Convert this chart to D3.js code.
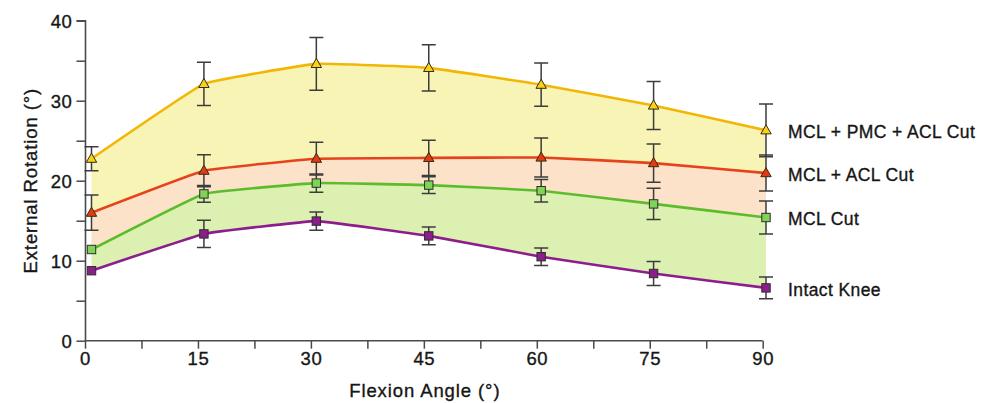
<!DOCTYPE html>
<html>
<head>
<meta charset="utf-8">
<script src="https://cdn.jsdelivr.net/npm/d3@7"></script>
<style>
  html, body { margin: 0; padding: 0; background: #fff; }
  svg { display: block; }
  text { font-family: "Liberation Sans", Arial, Helvetica, sans-serif; fill: #161616; stroke: #161616; stroke-width: 0.35px; }
</style>
</head>
<body>
<svg id="chart" width="992" height="403"></svg>
<script>
// Flexion angles (degrees)
const angles = [0, 15, 30, 45, 60, 75, 90];

// Mean external rotation (degrees) and error (+/-) for each knee state
const intactKnee    = [8.75, 13.35, 14.95, 13.1, 10.5, 8.4, 6.6];
const intactKneeErr = [null, 1.7, 1.15, 1.1, 1.1, 1.5, 1.35];

const mclCut        = [11.4, 18.35, 19.7, 19.45, 18.75, 17.1, 15.4];
const mclCutErr     = [null, 1.05, 1.15, 1.05, 1.4, 1.95, 2.05];

const mclAclCut     = [16.0, 21.25, 22.75, 22.85, 22.9, 22.2, 20.95];
const mclAclCutErr  = [2.2, 2.0, 2.05, 2.2, 2.45, 2.4, 2.25];

const mclPmcAclCut    = [22.75, 32.1, 34.6, 34.1, 32.0, 29.4, 26.3];
const mclPmcAclCutErr = [1.5, 2.7, 3.3, 2.9, 2.7, 3.0, 3.3];

const seriesNames = ["MCL + PMC + ACL Cut", "MCL + ACL Cut", "MCL Cut", "Intact Knee"];

const yTicks = [0, 10, 20, 30, 40];
const xTicks = [0, 15, 30, 45, 60, 75, 90];

// Build series from the arrays above (top to bottom)
const series = [
  { name: seriesNames[0], values: mclPmcAclCut, err: mclPmcAclCutErr, line: "#f2b705", marker: "#f7d21a", shape: "triangle", band: "#f8f4b6" },
  { name: seriesNames[1], values: mclAclCut,    err: mclAclCutErr,    line: "#e6421b", marker: "#e33a12", shape: "triangle", band: "#fbe2c8" },
  { name: seriesNames[2], values: mclCut,       err: mclCutErr,       line: "#5cbc2c", marker: "#7fd356", shape: "square",   band: "#dcf0b2" },
  { name: seriesNames[3], values: intactKnee,   err: intactKneeErr,   line: "#8d1c8d", marker: "#8a1f8a", shape: "square",   band: null }
];
series.forEach(s => { s.points = angles.map((a, i) => ({ a, v: s.values[i], e: s.err[i] })); });

const svg = d3.select("#chart");

// Axis scales
const x = d3.scaleLinear().domain([0, 90]).range([85, 762.7]);
const y = d3.scaleLinear().domain([0, 40]).range([340.7, 20.7]);
// Data points sit slightly to the right of the tick marks
const xd = d3.scaleLinear().domain([0, 90]).range([91.5, 766]);

// Gently rounded segments
const curve = d3.curveCardinal.tension(0.75);

// Shaded bands between consecutive curves
const bands = svg.append("g");
for (let i = 0; i < series.length - 1; i++) {
  const upper = series[i], lower = series[i + 1];
  const area = d3.area()
    .x(d => xd(d.a))
    .y1(d => y(d.v))
    .y0((d, k) => y(lower.values[k]))
    .curve(curve);
  bands.append("path")
    .datum(upper.points)
    .attr("d", area)
    .attr("fill", upper.band)
    .attr("stroke", "none");
}

// Axes
const axisColor = "#4a4a4a";
const yAxis = svg.append("g").attr("transform", `translate(${x(0) + 0.5},0)`)
  .call(d3.axisLeft(y).tickValues(d3.range(0, 41, 5)).tickSize(9).tickFormat(d => yTicks.includes(d) ? d : ""));
const xAxis = svg.append("g").attr("transform", `translate(0,${y(0)})`)
  .call(d3.axisBottom(x).tickValues(d3.range(0, 91, 7.5)).tickSize(8).tickFormat(d => xTicks.includes(d) ? d : ""));

[yAxis, xAxis].forEach(g => {
  g.select(".domain").attr("stroke", axisColor).attr("stroke-width", 1.6);
  g.selectAll(".tick line").attr("stroke", axisColor).attr("stroke-width", 1.5);
  g.selectAll(".tick text")
    .attr("fill", "#161616")
    .style("font-size", "18.5px")
    .style("letter-spacing", "0.6px")
    .style("font-family", '"Liberation Sans", Arial, sans-serif');
});
yAxis.select(".domain").attr("d", `M-9,${y(40)}H0V${y(0)}`);
yAxis.selectAll(".tick text").attr("x", -13).attr("dy", "0.36em");
xAxis.select(".domain").attr("d", `M${x(0)},0H${x(90)}`);
xAxis.selectAll(".tick text").attr("y", 11).attr("dy", "0.71em");

// Axis titles
svg.append("text")
  .attr("x", x(45) + 1).attr("y", 397)
  .attr("text-anchor", "middle")
  .style("font-size", "18.5px")
  .style("letter-spacing", "0.9px")
  .text("Flexion Angle (°)");

svg.append("text")
  .attr("transform", `translate(37,${(y(0) + y(40)) / 2}) rotate(-90)`)
  .attr("text-anchor", "middle")
  .style("font-size", "18.5px")
  .style("letter-spacing", "0.9px")
  .text("External Rotation (°)");

// Error bars
const eb = svg.append("g").attr("stroke", "#3c3c3c").attr("stroke-width", 1.5).attr("fill", "none");
const capHalf = 7;
series.forEach(s => {
  s.points.filter(p => p.e != null).forEach(p => {
    const cx = xd(p.a);
    const top = y(p.v + p.e), bot = y(p.v - p.e);
    eb.append("path")
      .attr("d", `M${cx},${top}V${bot}M${cx - capHalf},${top}H${cx + capHalf}M${cx - capHalf},${bot}H${cx + capHalf}`);
  });
});

// Series lines
const line = d3.line().x(d => xd(d.a)).y(d => y(d.v)).curve(curve);
series.forEach(s => {
  svg.append("path")
    .datum(s.points)
    .attr("d", line)
    .attr("fill", "none")
    .attr("stroke", s.line)
    .attr("stroke-width", 2.6);
});

// Markers
series.forEach(s => {
  const g = svg.append("g");
  s.points.forEach(p => {
    const cx = xd(p.a), cy = y(p.v);
    if (s.shape === "triangle") {
      g.append("path")
        .attr("d", `M${cx},${cy - 5.5}L${cx + 5.2},${cy + 3.6}L${cx - 5.2},${cy + 3.6}Z`)
        .attr("fill", s.marker).attr("stroke", "#3a2a10").attr("stroke-width", 1);
    } else {
      g.append("rect")
        .attr("x", cx - 4.2).attr("y", cy - 4.2).attr("width", 8.4).attr("height", 8.4)
        .attr("fill", s.marker).attr("stroke", "#2e2e2e").attr("stroke-width", 1);
    }
  });
});

// Series labels at the right end of each curve
series.forEach(s => {
  svg.append("text")
    .attr("x", 788)
    .attr("y", y(s.values[s.values.length - 1]) + 1.5)
    .attr("dy", "0.35em")
    .style("font-size", "17.5px")
    .style("letter-spacing", "0.4px")
    .text(s.name);
});
</script>
</body>
</html>
